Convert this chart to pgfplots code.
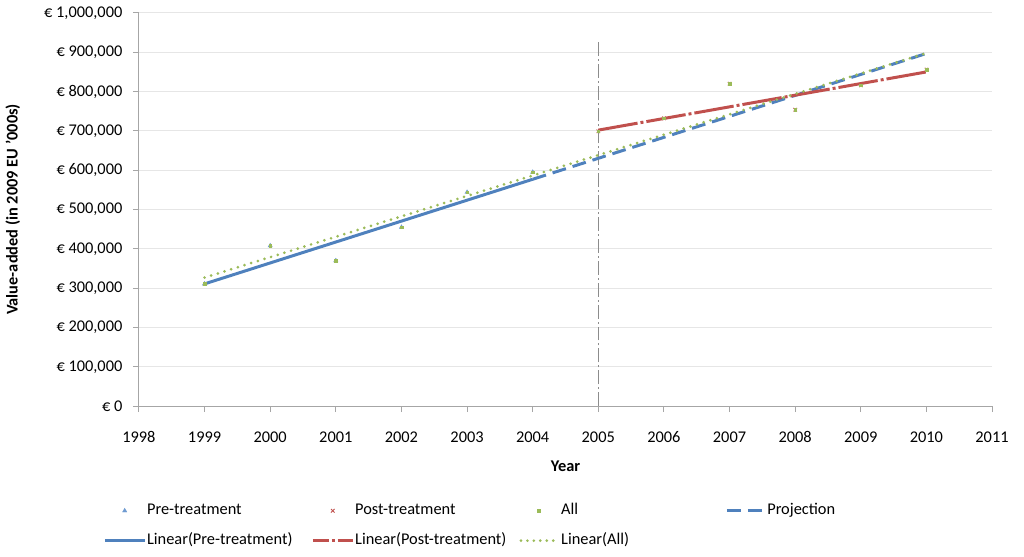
\documentclass[border=0pt]{standalone}
\usepackage{fontspec}
\setmainfont{Carlito}
\usepackage{pgfplots}
\pgfplotsset{compat=1.18}
\definecolor{blueL}{HTML}{4F81BD}
\definecolor{blueM}{HTML}{6F9BD1}
\definecolor{redL}{HTML}{C0504D}
\definecolor{greenL}{HTML}{9BBB59}
\definecolor{axisgray}{HTML}{A6A6A6}
\definecolor{gridgray}{HTML}{E6E6E6}
\definecolor{vgray}{HTML}{8C8C8C}
\begin{document}
\fontsize{16.5}{20}\selectfont
\begin{tikzpicture}
\begin{axis}[
 scale only axis, width=857bp, height=395bp,
 xmin=1998, xmax=2011, ymin=0, ymax=1000000,
 xtick={1998,1999,...,2011},
 ytick={0,100000,200000,300000,400000,500000,600000,700000,800000,900000,1000000},
 yticklabels={{€ 0},{€ 100,000},{€ 200,000},{€ 300,000},{€ 400,000},{€ 500,000},{€ 600,000},{€ 700,000},{€ 800,000},{€ 900,000},{€ 1,000,000}},
 scaled y ticks=false,
 /pgf/number format/assume math mode=true,
 xticklabel style={/pgf/number format/1000 sep={}, yshift=-14bp},
 yticklabel style={xshift=-5bp},
 axis x line*=bottom, axis y line*=left,
 axis line style={draw=axisgray, line width=0.9bp},
 tick style={draw=axisgray, line width=0.9bp},
 tick align=outside, major tick length=6bp,
 ymajorgrids, grid style={draw=gridgray, line width=0.9bp},
 xlabel={\textbf{Year}},
 xlabel style={yshift=-7bp},
 ylabel={\textbf{Value-added (in 2009 EU '000s)}},
 ylabel style={yshift=13bp},
 clip=false,
 legend columns=4,
 legend cell align=left,
 legend style={at={(-0.042,-0.304)}, anchor=west, draw=none, fill=none, inner sep=0pt,
   nodes={inner sep=1bp, text height=12bp, text depth=4bp}, row sep=12bp,
   font=\fontsize{16.5}{20}\selectfont},
]
% legend entries
\addlegendimage{legend image code/.code={\draw[blueM, fill=blueM] plot[only marks, mark=triangle*, mark size=2.5bp] coordinates {(20bp,0bp)};}}
\addlegendentry{\makebox[164bp][l]{Pre-treatment}}
\addlegendimage{legend image code/.code={\draw[redL, line width=0.9bp] plot[only marks, mark=x, mark size=2.5bp] coordinates {(20bp,0bp)};}}
\addlegendentry{\makebox[164bp][l]{Post-treatment}}
\addlegendimage{legend image code/.code={\draw[greenL, fill=greenL] plot[only marks, mark=square*, mark size=1.3bp] coordinates {(20bp,0bp)};}}
\addlegendentry{\makebox[164bp][l]{All}}
\addlegendimage{legend image code/.code={\draw[blueL, line width=3bp, dash pattern=on 14bp off 7bp] (2bp,0bp) -- (40bp,0bp);}}
\addlegendentry{Projection}
\addlegendimage{legend image code/.code={\draw[blueL, line width=3bp] (0bp,0bp) -- (40bp,0bp);}}
\addlegendentry{\makebox[164bp][l]{Linear(Pre-treatment)}}
\addlegendimage{legend image code/.code={\draw[redL, line width=3bp, dash pattern=on 16bp off 3bp on 3bp off 3bp] (0bp,0bp) -- (40bp,0bp);}}
\addlegendentry{\makebox[164bp][l]{Linear(Post-treatment)}}
\addlegendimage{legend image code/.code={\draw[greenL, line width=3bp, line cap=round, dash pattern=on 0bp off 6.5bp] (2bp,0bp) -- (40bp,0bp);}}
\addlegendentry{Linear(All)}
% vertical treatment line
\addplot[forget plot, vgray, line width=1.2bp, dash pattern=on 14bp off 3bp on 2bp off 3bp] coordinates {(2005,0) (2005,932000)};
% data markers
\addplot[forget plot, only marks, mark=triangle*, mark size=2.5bp, blueM] coordinates {
(1999,311000) (2000,408000) (2001,370000) (2002,455000) (2003,544000) (2004,595000)};
\addplot[forget plot, only marks, mark=x, mark size=2.5bp, redL, line width=0.9bp] coordinates {
(2005,699000) (2006,732000) (2007,820000) (2008,754000) (2009,816000) (2010,856000)};
\addplot[forget plot, only marks, mark=square*, mark size=1.3bp, greenL] coordinates {
(1999,311000) (2000,408000) (2001,370000) (2002,455000) (2003,544000) (2004,595000)
(2005,699000) (2006,732000) (2007,820000) (2008,754000) (2009,816000) (2010,856000)};
% trend lines
\addplot[forget plot, blueL, line width=3bp] coordinates {(1999,311000) (2004,577000)};
\addplot[forget plot, blueL, line width=3bp, dash pattern=on 14bp off 7bp] coordinates {(2004,577000) (2010,897000)};
\addplot[forget plot, redL, line width=3bp, dash pattern=on 40bp off 3bp on 3bp off 3bp] coordinates {(2005,702000) (2010,850000)};
\addplot[forget plot, greenL, line width=3bp, line cap=round, dash pattern=on 0bp off 7bp] coordinates {(1999,327000) (2010,898000)};
% bounding box to match reference canvas
\path (rel axis cs:-0.1575,-0.3823) rectangle (rel axis cs:1.0374,1.0329);
\end{axis}
\end{tikzpicture}
\end{document}
